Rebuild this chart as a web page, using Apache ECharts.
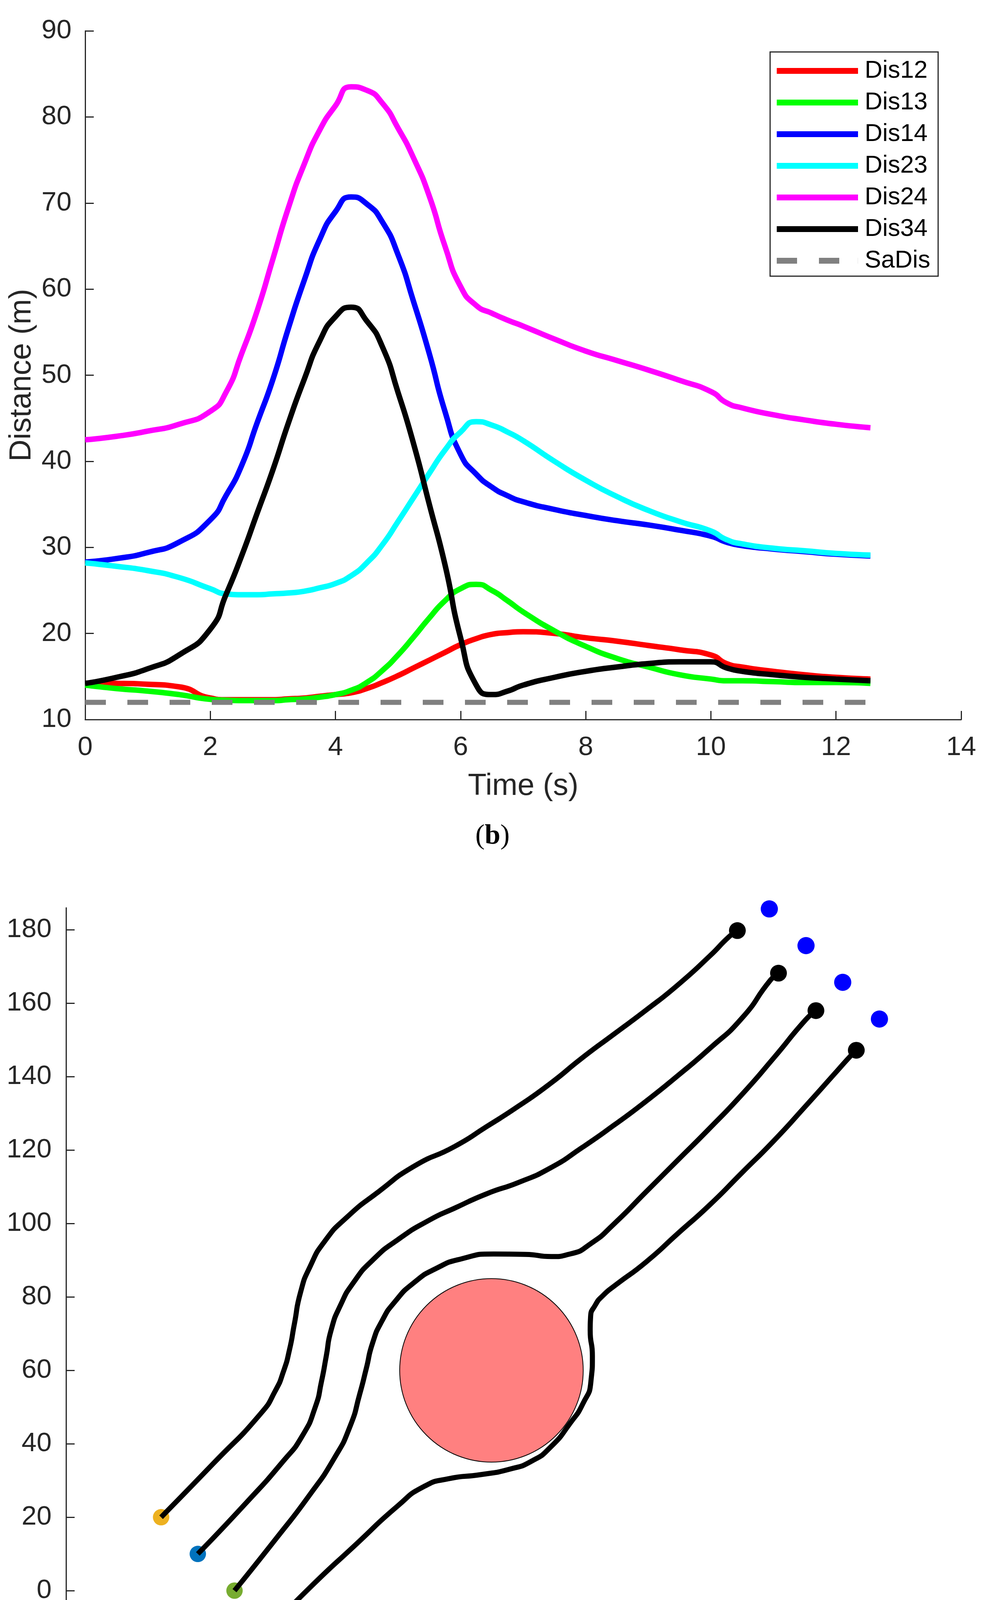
<!DOCTYPE html>
<html>
<head>
<meta charset="utf-8">
<script src="https://cdn.jsdelivr.net/npm/echarts@6/dist/echarts.min.js"></script>
<style>
  html, body { margin: 0; padding: 0; background: #fff; }
  #chart { width: 2521px; height: 4479px; }
</style>
</head>
<body>
<div id="chart"></div>
<script>
// (b) distances between vehicles over time
const timeS = [0,0.5,1,1.5,2,2.25,2.5,2.75,3,3.25,3.5,3.75,4,4.25,4.5,4.75,5,5.25,5.5,5.75,6,6.25,6.5,6.75,7,7.5,8,8.5,9,9.5,10,10.25,10.5,11,11.5,12,12.55];
const dis12 = [14.2,14.2,14.1,13.8,12.5,12.3,12.3,12.3,12.3,12.4,12.5,12.7,12.9,13.1,13.6,14.3,15.1,16.0,16.9,17.8,18.7,19.4,19.9,20.1,20.2,20.0,19.5,19.1,18.6,18.1,17.5,16.5,16.1,15.6,15.2,14.9,14.7];
const dis13 = [14.0,13.6,13.3,12.9,12.35,12.25,12.2,12.2,12.2,12.3,12.4,12.6,12.9,13.4,14.3,15.7,17.5,19.6,21.8,23.8,25.2,25.7,25.0,23.8,22.5,20.3,18.5,17.1,16.1,15.2,14.7,14.5,14.5,14.4,14.3,14.3,14.2];
const dis14 = [28.3,28.7,29.4,30.6,33.2,36.0,39.5,44.5,49.5,55.5,61.0,65.8,69.0,70.7,69.9,67.8,64.0,58.5,52.5,45.8,40.8,38.5,37.0,36.0,35.3,34.4,33.7,33.1,32.6,32.0,31.3,30.6,30.2,29.8,29.5,29.2,29.0];
const dis23 = [28.2,27.8,27.3,26.5,25.2,24.6,24.5,24.5,24.6,24.7,24.9,25.3,25.8,26.7,28.2,30.3,33.0,35.8,38.6,41.3,43.4,44.6,44.2,43.4,42.4,40.0,37.8,35.9,34.3,33.0,31.9,30.9,30.4,29.9,29.6,29.3,29.1];
const dis24 = [42.5,42.9,43.5,44.3,45.8,48.0,52.5,57.5,63.5,69.5,74.5,78.5,81.3,83.5,83.1,81.6,78.7,75.2,70.8,65.0,60.3,58.1,57.2,56.4,55.7,54.2,52.8,51.7,50.6,49.4,48.1,46.8,46.2,45.4,44.8,44.3,43.9];
const dis34 = [14.2,14.9,15.9,17.5,20.5,24.5,29.0,34.0,39.0,44.5,49.5,54.0,56.8,57.9,56.3,53.3,48.0,42.0,35.0,28.0,19.5,14.0,12.9,13.3,14.0,14.9,15.6,16.1,16.5,16.7,16.7,16.0,15.6,15.2,14.9,14.7,14.5];
const saTime = [0, 12.55];
const saDis = [12, 12];
const disNames = ['Dis12','Dis13','Dis14','Dis23','Dis24','Dis34','SaDis'];
const timeTicks = [0,2,4,6,8,10,12,14];

// (c) trajectories
const path1 = [[0,20],[14.2,34.6],[27.2,48.3],[31.1,54.4],[33.3,59.6],[35.0,65.7],[36.3,72.6],[38.0,81.3],[40.6,88.3],[44.6,95.2],[50.6,101.7],[59.3,108.7],[68.9,115.6],[80.0,121.0],[88.7,126.4],[97.4,132.0],[106.0,138.1],[114.7,145.1],[123.4,151.6],[132.1,158.1],[140.8,165.0],[149.5,172.9],[154.7,178.1],[157.0,179.8]];
const path2 = [[10,10],[22.8,23.5],[33.3,35.3],[38.5,42.2],[42.0,50.0],[43.7,57.0],[45.0,63.9],[46.3,70.9],[48.9,77.8],[52.4,83.9],[57.6,90.0],[64.5,95.6],[73.2,101.0],[80.0,104.2],[88.7,108.1],[97.4,111.2],[106.0,115.1],[114.7,120.7],[123.4,126.8],[132.1,133.3],[140.8,140.3],[149.5,147.7],[158.2,155.9],[166.0,166.3],[168.2,168.2]];
const path3 = [[20,0],[31.5,14.4],[40.2,25.7],[47.2,36.1],[51.5,44.8],[54.1,53.5],[55.9,60.5],[57.6,67.4],[60.2,73.5],[63.7,78.7],[68.9,83.9],[75.0,87.8],[81.9,90.4],[90.6,91.7],[99.3,91.6],[106.3,91.0],[111.4,91.7],[117.3,94.7],[123.4,99.9],[132.1,108.6],[140.8,117.3],[149.5,126.0],[158.2,135.1],[166.9,145.1],[175.6,155.5],[178.4,158.0]];
const path4 = [[30,-10],[40.2,0.5],[53.2,12.7],[64.5,23.1],[71.5,28.3],[78.4,30.5],[87.1,31.6],[95.0,33.1],[101.0,35.3],[106.2,39.2],[111.5,45.7],[114.9,50.9],[117.1,57.0],[117.5,63.9],[116.9,70.9],[117.0,74.4],[118.3,77.8],[120.5,80.5],[123.5,83.0],[132.1,89.5],[140.8,97.3],[149.5,105.1],[158.2,113.8],[166.9,122.5],[175.6,132.0],[184.2,141.6],[187.7,145.5],[189.4,147.2]];
const startPts = [[0,20],[10,10],[20,0],[30,-10]];
const startColors = ['#EDB120','#0072BD','#77AC30','#A2142F'];
const endPts = [[157.0,179.8],[168.2,168.2],[178.4,158.0],[189.4,147.2]];
const goalPts = [[165.7,185.7],[175.7,175.7],[185.7,165.7],[195.7,155.7]];
const obstacleCenter = [90, 60];
const obstacleRadius = 25;
const xTicksC = [0,50,100,150,200];
const yTicksC = [0,20,40,60,80,100,120,140,160,180];

const FONT = 'Liberation Sans, Arial, Helvetica, sans-serif';
const SERIF = 'Liberation Serif, Times New Roman, serif';
const AX = '#262626';
const TICK_FS = 69;

function zip(xs, ys) { return xs.map((x, i) => [x, ys[i]]); }

function axisBase(extra) {
  return Object.assign({
    type: 'value',
    axisLine: { show: true, onZero: false, lineStyle: { color: AX, width: 3 } },
    axisTick: { show: true, inside: true, length: 22, lineStyle: { color: AX, width: 3 } },
    splitLine: { show: false },
    axisLabel: { color: AX, fontSize: TICK_FS, fontFamily: FONT }
  }, extra);
}

const chart = echarts.init(document.getElementById('chart'), null, { renderer: 'canvas' });

const lineColors = ['#FF0000','#00FF00','#0000FF','#00FFFF','#FF00FF','#000000'];
const lineData = [dis12, dis13, dis14, dis23, dis24, dis34];

const series = lineData.map((d, i) => ({
  name: disNames[i],
  type: 'line',
  xAxisIndex: 0, yAxisIndex: 0,
  data: zip(timeS, d),
  symbol: 'none',
  smooth: 0.6,
  color: lineColors[i],
  lineStyle: { color: lineColors[i], width: 14 },
  z: 2 + i
}));
series.push({
  name: 'SaDis',
  type: 'line',
  xAxisIndex: 0, yAxisIndex: 0,
  data: zip(saTime, saDis),
  symbol: 'none',
  color: '#808080',
  lineStyle: { color: '#808080', width: 13, type: [53, 55], cap: 'butt' },
  z: 9
});

// (c) obstacle
series.push({
  type: 'custom',
  xAxisIndex: 1, yAxisIndex: 1,
  data: [[obstacleCenter[0], obstacleCenter[1], obstacleRadius]],
  encode: { x: 0, y: 1 },
  clip: false,
  renderItem: function (params, api) {
    const c = api.coord([api.value(0), api.value(1)]);
    const s = api.size([api.value(2), api.value(2)]);
    return {
      type: 'circle',
      shape: { cx: c[0], cy: c[1], r: s[0] },
      style: { fill: '#FF8080', stroke: '#000', lineWidth: 2 }
    };
  },
  z: 1
});
series.push({
  type: 'scatter',
  xAxisIndex: 1, yAxisIndex: 1,
  data: startPts.map((p, i) => ({ value: p, itemStyle: { color: startColors[i], opacity: 1 } })),
  symbolSize: 42,
  clip: false,
  z: 2
});
[path1, path2, path3, path4].forEach(p => {
  series.push({
    type: 'line',
    xAxisIndex: 1, yAxisIndex: 1,
    data: p,
    symbol: 'none',
    smooth: 0.6,
    lineStyle: { color: '#000', width: 13 },
    z: 3
  });
});
series.push({
  type: 'scatter',
  xAxisIndex: 1, yAxisIndex: 1,
  data: endPts,
  symbolSize: 43,
  itemStyle: { color: '#000', opacity: 1 },
  clip: false,
  z: 4
});
series.push({
  type: 'scatter',
  xAxisIndex: 1, yAxisIndex: 1,
  data: goalPts,
  symbolSize: 44,
  itemStyle: { color: '#0000FF', opacity: 1 },
  clip: false,
  z: 4
});

const dashIcon = 'path://M0,0h52v15h-52z M108,0h52v15h-52z M207.8,0h0.2v15h-0.2z';

chart.setOption({
  animation: false,
  backgroundColor: '#fff',
  textStyle: { fontFamily: FONT },
  grid: [
    { left: 218, top: 79, width: 2242, height: 1763 },
    { left: 169, top: 2324, width: 2327, height: 1842 }
  ],
  xAxis: [
    axisBase({
      gridIndex: 0, min: 0, max: 14, interval: 2,
      axisLabel: { color: AX, fontSize: TICK_FS, fontFamily: FONT, margin: 37, customValues: timeTicks },
      name: 'Time (s)', nameLocation: 'middle', nameGap: 132,
      nameTextStyle: { color: AX, fontSize: 78, fontFamily: FONT }
    }),
    axisBase({
      gridIndex: 1, min: -25.9, max: 221.8,
      axisTick: { show: true, inside: true, length: 22, customValues: xTicksC, lineStyle: { color: AX, width: 3 } },
      axisLabel: { color: AX, fontSize: TICK_FS, fontFamily: FONT, margin: 42, customValues: xTicksC }
    })
  ],
  yAxis: [
    axisBase({
      gridIndex: 0, min: 10, max: 90, interval: 10,
      axisLabel: { color: AX, fontSize: TICK_FS, fontFamily: FONT, margin: 35 },
      name: 'Distance (m)', nameLocation: 'middle', nameGap: 120, nameRotate: 90,
      nameTextStyle: { color: AX, fontSize: 78, fontFamily: FONT }
    }),
    axisBase({
      gridIndex: 1, min: -10, max: 186,
      axisTick: { show: true, inside: true, length: 22, customValues: yTicksC, lineStyle: { color: AX, width: 3 } },
      axisLabel: { color: AX, fontSize: TICK_FS, fontFamily: FONT, margin: 37, customValues: yTicksC }
    })
  ],
  legend: {
    data: disNames.map(n => ({ name: n, icon: n === 'SaDis' ? dashIcon : 'rect' })),
    orient: 'vertical',
    left: 1971, top: 133,
    padding: [17, 20, 8, 17],
    itemWidth: 208, itemHeight: 15, itemGap: 18,
    backgroundColor: '#fff',
    borderColor: AX, borderWidth: 3, borderRadius: 0,
    selectedMode: false,
    textStyle: { color: '#000', fontSize: 63, lineHeight: 63, fontFamily: FONT, padding: [0, 0, 0, 12] }
  },
  graphic: [
    {
      type: 'text', left: 'center', top: 2105,
      style: {
        text: '{p|(}{b|b}{p|)}',
        rich: {
          p: { fontFamily: SERIF, fontSize: 72, fill: '#000' },
          b: { fontFamily: SERIF, fontSize: 72, fontWeight: 'bold', fill: '#000' }
        }
      }
    },
    {
      type: 'text', left: 'center', top: 4365,
      style: {
        text: '{p|(}{b|c}{p|)}',
        rich: {
          p: { fontFamily: SERIF, fontSize: 72, fill: '#000' },
          b: { fontFamily: SERIF, fontSize: 72, fontWeight: 'bold', fill: '#000' }
        }
      }
    }
  ],
  series: series
});
</script>
</body>
</html>
